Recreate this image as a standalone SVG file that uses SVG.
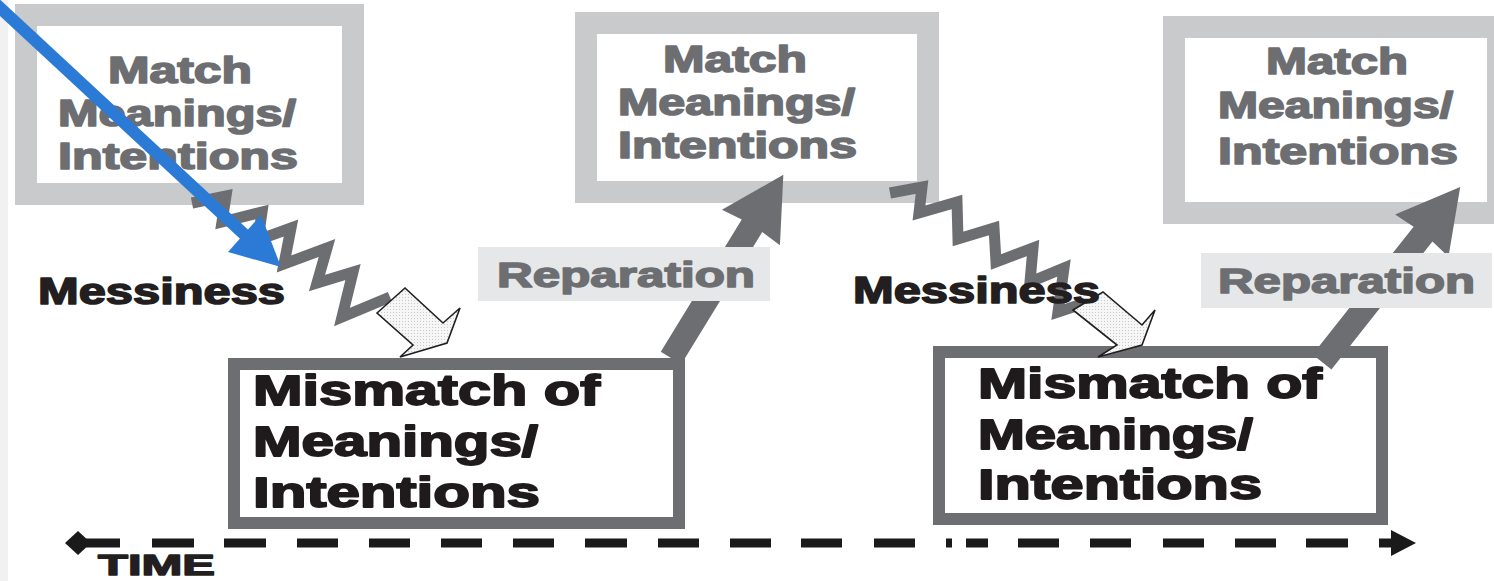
<svg xmlns="http://www.w3.org/2000/svg" width="1494" height="581" viewBox="0 0 1494 581">
  <defs>
    <style>
      .match-frame { fill: #ffffff; stroke: #c9cacc; stroke-width: 22; }
      .mismatch-frame { fill: #ffffff; stroke: #6d6e71; stroke-width: 12; }
      .t { font-family: "Liberation Sans", Arial, sans-serif; font-weight: bold; stroke-linejoin: round; }
      .match-text { fill: #6d6e71; stroke: #6d6e71; stroke-width: 1.6; font-size: 36px; }
      .mismatch-text { fill: #1f1b1c; stroke: #1f1b1c; stroke-width: 1.8; font-size: 42px; }
      .mess-text { fill: #231f20; stroke: #231f20; stroke-width: 1.6; font-size: 37px; }
      .rep-box { fill: #e6e7e8; }
      .rep-text { fill: #6d6e71; stroke: #6d6e71; stroke-width: 1.5; font-size: 35px; }
      .time-text { fill: #231f20; stroke: #231f20; stroke-width: 1.4; font-size: 30px; }
      .zigzag { fill: none; stroke: #6d6e71; stroke-width: 11; stroke-linejoin: miter; stroke-miterlimit: 10; }
      .rep-arrow { fill: #6d6e71; }
      .hollow { fill: url(#stipple); stroke: #231f20; stroke-width: 1.6; stroke-linejoin: miter; }
      .dash { stroke: #1a1a1a; stroke-width: 9; fill: none; }
    </style>
    <pattern id="stipple" width="3" height="3" patternUnits="userSpaceOnUse">
      <rect width="3" height="3" fill="#f6f6f6"/>
      <rect width="1" height="1" fill="#c8c8c8"/>
    </pattern>
  </defs>

  <rect x="0" y="0" width="1494" height="581" fill="#ffffff"/>
  <rect x="0" y="0" width="8" height="581" fill="#f1f1f2"/>

  <!-- state boxes -->
  <g id="match-1">
    <rect class="match-frame" x="26" y="15" width="327" height="179"/>
    <text class="t match-text" x="108" y="83" textLength="144" lengthAdjust="spacingAndGlyphs">Match</text>
    <text class="t match-text" x="58" y="126" textLength="238" lengthAdjust="spacingAndGlyphs">Meanings/</text>
    <text class="t match-text" x="58" y="169" textLength="240" lengthAdjust="spacingAndGlyphs">Intentions</text>
  </g>
  <g id="match-2">
    <rect class="match-frame" x="586" y="23" width="342" height="169"/>
    <text class="t match-text" x="663" y="72" textLength="144" lengthAdjust="spacingAndGlyphs">Match</text>
    <text class="t match-text" x="618" y="115" textLength="237" lengthAdjust="spacingAndGlyphs">Meanings/</text>
    <text class="t match-text" x="618" y="158" textLength="239" lengthAdjust="spacingAndGlyphs">Intentions</text>
  </g>
  <g id="match-3">
    <rect class="match-frame" x="1174" y="27" width="324" height="186"/>
    <text class="t match-text" x="1266" y="74" textLength="142" lengthAdjust="spacingAndGlyphs">Match</text>
    <text class="t match-text" x="1218" y="118" textLength="235" lengthAdjust="spacingAndGlyphs">Meanings/</text>
    <text class="t match-text" x="1218" y="164" textLength="240" lengthAdjust="spacingAndGlyphs">Intentions</text>
  </g>
  <g id="mismatch-1">
    <rect class="mismatch-frame" x="234" y="364" width="445" height="159"/>
    <text class="t mismatch-text" x="253" y="405" textLength="347" lengthAdjust="spacingAndGlyphs">Mismatch of</text>
    <text class="t mismatch-text" x="253" y="456" textLength="285" lengthAdjust="spacingAndGlyphs">Meanings/</text>
    <text class="t mismatch-text" x="253" y="507" textLength="287" lengthAdjust="spacingAndGlyphs">Intentions</text>
  </g>
  <g id="mismatch-2">
    <rect class="mismatch-frame" x="939" y="352" width="443" height="167"/>
    <text class="t mismatch-text" x="978" y="398" textLength="344" lengthAdjust="spacingAndGlyphs">Mismatch of</text>
    <text class="t mismatch-text" x="978" y="449" textLength="275" lengthAdjust="spacingAndGlyphs">Meanings/</text>
    <text class="t mismatch-text" x="978" y="499" textLength="284" lengthAdjust="spacingAndGlyphs">Intentions</text>
  </g>

  <!-- transitions -->
  <g id="connectors">
    <!-- messiness: jagged drift from match to mismatch -->
    <polyline class="zigzag" points="192,203 226,196 222,222 262,212 258,240 291,228 284,264 327,248 317,283 353,272 342,317 390,297"/>
    <polygon class="hollow" points="377,313 405,288 443,323 460,308 447,343 400,357 413,345"/>
    <polyline class="zigzag" points="890,193 922,187 919,213 957,202 958,239 994,228 996,262 1033,248 1030,282 1064,268 1058,312 1085,303"/>
    <polygon class="hollow" points="1073,310 1103,292 1142,325 1155,310 1142,345 1098,357 1117,345"/>
    <!-- reparation: straight climb back to match -->
    <path class="rep-arrow" transform="translate(671,358) rotate(-58.5)" d="M0,-12 L155,-12 L153,-34 L215,0 L153,34 L155,12 L0,12 Z"/>
    <path class="rep-arrow" transform="translate(1322,362) rotate(-51.7)" d="M0,-12 L163,-12 L161,-34 L223,0 L161,34 L163,12 L0,12 Z"/>
  </g>

  <!-- edge labels -->
  <g id="label-messiness-1">
    <text class="t mess-text" x="38" y="304" textLength="247" lengthAdjust="spacingAndGlyphs">Messiness</text>
  </g>
  <g id="label-messiness-2">
    <text class="t mess-text" x="853" y="303" textLength="247" lengthAdjust="spacingAndGlyphs">Messiness</text>
  </g>
  <g id="label-reparation-1">
    <rect class="rep-box" x="478" y="247" width="292" height="54"/>
    <text class="t rep-text" x="497" y="287" textLength="258" lengthAdjust="spacingAndGlyphs">Reparation</text>
  </g>
  <g id="label-reparation-2">
    <rect class="rep-box" x="1201" y="253" width="291" height="55"/>
    <text class="t rep-text" x="1218" y="293" textLength="257" lengthAdjust="spacingAndGlyphs">Reparation</text>
  </g>

  <!-- time axis -->
  <g id="time-axis">
    <polygon points="65,543 78,531 91,543 78,555" fill="#1a1a1a"/>
    <path class="dash" d="M86,543H120 M152,543H194 M224,543H266 M297,543H338 M369,543H410 M441,543H482 M513,543H554 M585,543H627 M658,543H699 M730,543H771 M801,543H842 M874,543H915 M946,543H952 M966,543H988 M1018,543H1059 M1090,543H1131 M1163,543H1204 M1235,543H1276 M1306,543H1348 M1379,543H1394"/>
    <polygon points="1391,530 1416,543 1391,556" fill="#1a1a1a"/>
    <text class="t time-text" x="98" y="575" textLength="117" lengthAdjust="spacingAndGlyphs">TIME</text>
  </g>

  <!-- pointer -->
  <g id="pointer">
    <line x1="-4" y1="4" x2="246" y2="236" stroke="#2b7bd6" stroke-width="12"/>
    <polygon points="281,267 228,252 261,215" fill="#2b7bd6"/>
  </g>
</svg>
